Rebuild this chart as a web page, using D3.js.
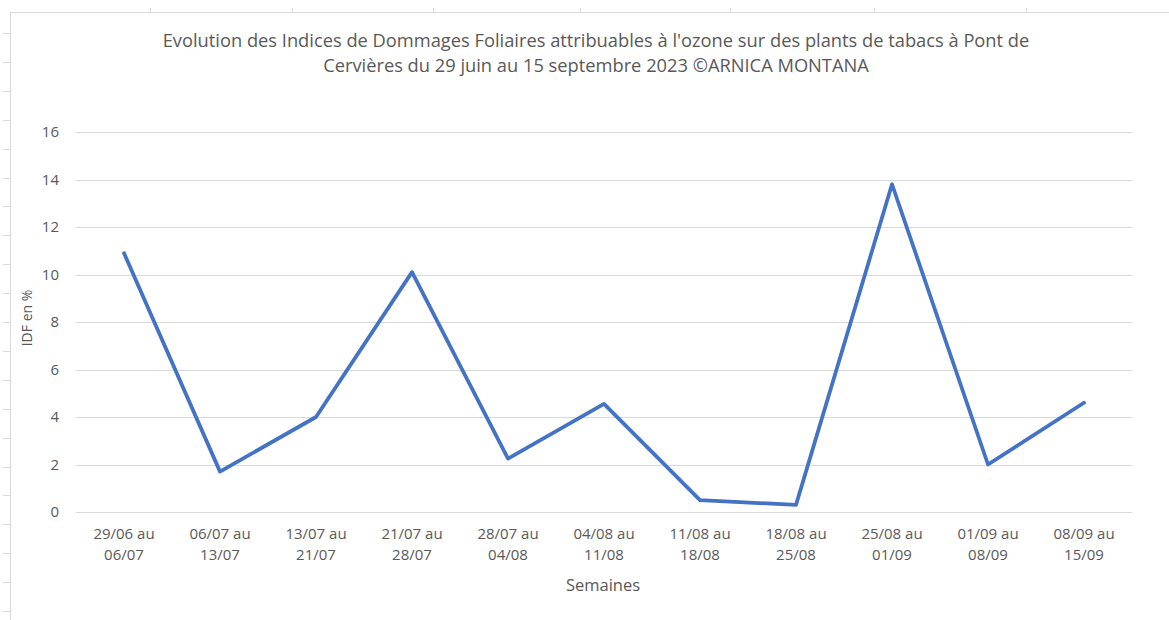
<!DOCTYPE html>
<html><head><meta charset="utf-8">
<script src="https://cdn.jsdelivr.net/npm/d3@7"></script>
<style>body{margin:0;background:#fff;}svg{display:block;font-family:"Open Sans","Liberation Sans",sans-serif;}</style>
</head><body><svg id="c" width="1169" height="620"></svg>
<script>
const categories = [["29/06 au","06/07"],["06/07 au","13/07"],["13/07 au","21/07"],["21/07 au","28/07"],["28/07 au","04/08"],["04/08 au","11/08"],["11/08 au","18/08"],["18/08 au","25/08"],["25/08 au","01/09"],["01/09 au","08/09"],["08/09 au","15/09"]];
const values = [10.9, 1.7, 4.0, 10.1, 2.25, 4.55, 0.5, 0.3, 13.8, 2.0, 4.6];
const yTicks = [0, 2, 4, 6, 8, 10, 12, 14, 16];
const titleLines = ["Evolution des Indices de Dommages Foliaires attribuables à l'ozone sur des plants de tabacs à Pont de", "Cervières du 29 juin au 15 septembre 2023 ©ARNICA MONTANA"];

(function(){
const svg = d3.select("#c");
const W = 1169, H = 620;
const pL = 76, pR = 1132, pT = 132, pB = 512;
const x = d3.scaleBand().domain(d3.range(categories.length)).range([pL, pR]);
const y = d3.scaleLinear().domain([0, 16]).range([pB, pT]);
const txt = "#595959";

// sheet frame artifacts
const frame = svg.append("g").attr("stroke", "#d9d9d9").attr("stroke-width", 1);
frame.append("line").attr("x1", 10.5).attr("x2", 10.5).attr("y1", 12).attr("y2", H);
frame.append("line").attr("x1", 10).attr("x2", W).attr("y1", 12.5).attr("y2", 12.5);
[150, 292, 433, 580, 730, 874, 1026].forEach(v => frame.append("line").attr("x1", v + .5).attr("x2", v + .5).attr("y1", 8).attr("y2", 12));
d3.range(33, H, 28.9).forEach(v => frame.append("line").attr("x1", 3).attr("x2", 10).attr("y1", Math.round(v) + .5).attr("y2", Math.round(v) + .5));

// gridlines
svg.append("g").selectAll("line").data(yTicks).join("line")
  .attr("x1", pL).attr("x2", pR)
  .attr("y1", d => Math.round(y(d)) + .5).attr("y2", d => Math.round(y(d)) + .5)
  .attr("stroke", "#d9d9d9").attr("stroke-width", 1);

// y axis labels
const yAxis = d3.axisLeft(y).tickValues(yTicks).tickSize(0).tickPadding(0);
const ya = svg.append("g").attr("transform", `translate(59,0)`).call(yAxis);
ya.select(".domain").remove();
ya.selectAll("text").attr("fill", txt).style("font-size", "15px").style("font-family", "'Open Sans',sans-serif");

// x axis labels
const xa = svg.append("g").attr("transform", `translate(0,${pB})`)
  .call(d3.axisBottom(x).tickSize(0).tickFormat(() => ""));
xa.select(".domain").remove();
xa.selectAll(".tick text").each(function(d) {
  const t = d3.select(this).attr("fill", txt).style("font-size", "15px").style("font-family", "'Open Sans',sans-serif").attr("y", 0).attr("dy", null);
  categories[d].forEach((s, i) => t.append("tspan").attr("x", 0).attr("y", 27 + i * 21).text(s));
});

// line
svg.append("path").datum(values)
  .attr("fill", "none").attr("stroke", "#4472C4").attr("stroke-width", 3.75)
  .attr("stroke-linejoin", "round").attr("stroke-linecap", "round")
  .attr("d", d3.line().x((d, i) => x(i) + x.bandwidth() / 2).y(d => y(d)));

// title
svg.append("text").attr("x", 596).attr("text-anchor", "middle").attr("fill", txt).style("font-size", "18.3px")
  .selectAll("tspan").data(titleLines).join("tspan").attr("x", 596).attr("y", (d, i) => 47 + i * 25).text(d => d);

// axis titles
svg.append("text").attr("x", 603).attr("y", 591).attr("text-anchor", "middle").attr("fill", txt).style("font-size", "16.5px").text("Semaines");
svg.append("text").attr("transform", "translate(32,318) rotate(-90)").attr("text-anchor", "middle").attr("fill", txt).style("font-size", "14px").text("IDF en %");
})();
</script></body></html>
